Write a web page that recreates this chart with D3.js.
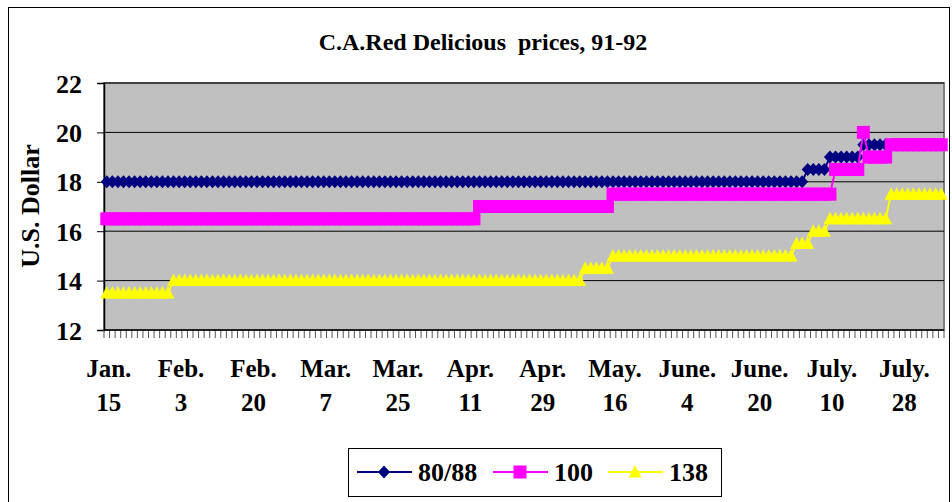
<!DOCTYPE html>
<html>
<head>
<meta charset="utf-8">
<script src="https://cdn.jsdelivr.net/npm/d3@7"></script>
<style>
  body { margin: 0; background: #fff; }
  text { font-family: "Liberation Serif", "Times New Roman", serif; font-weight: bold; fill: #000; }
</style>
</head>
<body>
<svg width="952" height="502"></svg>
<script>
// tick labels, every 13th trading day
const tickMonths = ["Jan.", "Feb.", "Feb.", "Mar.", "Mar.", "Apr.", "Apr.", "May.", "June.", "June.", "July.", "July."];
const tickDays   = ["15", "3", "20", "7", "25", "11", "29", "16", "4", "20", "10", "28"];
const tickStep = 13;

const seriesNames = ["80/88", "100", "138"];

// daily prices, 151 trading days
const s8088 = [
  18,18,18,18,18,18,18,18,18,18,18,18,18,18,18,18,18,18,18,18,
  18,18,18,18,18,18,18,18,18,18,18,18,18,18,18,18,18,18,18,18,
  18,18,18,18,18,18,18,18,18,18,18,18,18,18,18,18,18,18,18,18,
  18,18,18,18,18,18,18,18,18,18,18,18,18,18,18,18,18,18,18,18,
  18,18,18,18,18,18,18,18,18,18,18,18,18,18,18,18,18,18,18,18,
  18,18,18,18,18,18,18,18,18,18,18,18,18,18,18,18,18,18,18,18,
  18,18,18,18,18,18,
  18.5,18.5,18.5,18.5,
  19,19,19,19,19,19,
  19.5,19.5,19.5,19.5,19.5,19.5,19.5,19.5,19.5,19.5,19.5,19.5,19.5,19.5,19.5
];

const s100 = [
  16.5,16.5,16.5,16.5,16.5,16.5,16.5,16.5,16.5,16.5,16.5,16.5,16.5,16.5,16.5,16.5,16.5,16.5,16.5,16.5,
  16.5,16.5,16.5,16.5,16.5,16.5,16.5,16.5,16.5,16.5,16.5,16.5,16.5,16.5,16.5,16.5,16.5,16.5,16.5,16.5,
  16.5,16.5,16.5,16.5,16.5,16.5,16.5,16.5,16.5,16.5,16.5,16.5,16.5,16.5,16.5,16.5,16.5,16.5,16.5,16.5,
  16.5,16.5,16.5,16.5,16.5,16.5,16.5,
  17,17,17,17,17,17,17,17,17,17,17,17,17,17,17,17,17,17,17,17,
  17,17,17,17,
  17.5,17.5,17.5,17.5,17.5,17.5,17.5,17.5,17.5,17.5,17.5,17.5,17.5,17.5,17.5,17.5,17.5,17.5,17.5,17.5,
  17.5,17.5,17.5,17.5,17.5,17.5,17.5,17.5,17.5,17.5,17.5,17.5,17.5,17.5,17.5,17.5,17.5,17.5,17.5,17.5,
  18.5,18.5,18.5,18.5,18.5,
  20,
  19,19,19,19,
  19.5,19.5,19.5,19.5,19.5,19.5,19.5,19.5,19.5,19.5
];

const s138 = [
  13.5,13.5,13.5,13.5,13.5,13.5,13.5,13.5,13.5,13.5,13.5,13.5,
  14,14,14,14,14,14,14,14,14,14,14,14,14,14,14,14,14,14,14,14,
  14,14,14,14,14,14,14,14,14,14,14,14,14,14,14,14,14,14,14,14,
  14,14,14,14,14,14,14,14,14,14,14,14,14,14,14,14,14,14,14,14,
  14,14,14,14,14,14,14,14,14,14,14,14,14,14,
  14.5,14.5,14.5,14.5,14.5,
  15,15,15,15,15,15,15,15,15,15,15,15,15,15,15,15,15,15,15,15,
  15,15,15,15,15,15,15,15,15,15,15,15,15,
  15.5,15.5,15.5,
  16,16,16,
  16.5,16.5,16.5,16.5,16.5,16.5,16.5,16.5,16.5,16.5,16.5,
  17.5,17.5,17.5,17.5,17.5,17.5,17.5,17.5,17.5,17.5
];

const yTicks = [12, 14, 16, 18, 20, 22];

const svg = d3.select("svg");
const plotL = 104, plotR = 944, plotT = 83, plotB = 330;

// chart frame
svg.append("rect")
    .attr("x", 8.5).attr("y", 7.5).attr("width", 941).attr("height", 520)
    .attr("fill", "#fff").attr("stroke", "#000").attr("stroke-width", 1);

svg.append("text")
    .attr("x", 483).attr("y", 50)
    .attr("text-anchor", "middle")
    .style("font-size", "24px")
    .style("white-space", "pre")
    .text("C.A.Red Delicious  prices, 91-92");

const x = d3.scaleBand()
    .domain(d3.range(s8088.length))
    .range([plotL, plotR]);
const cx = i => x(i) + x.bandwidth() / 2;

const y = d3.scaleLinear().domain([12, 22]).range([plotB, plotT]);

// plot area
svg.append("rect")
    .attr("x", plotL).attr("y", plotT)
    .attr("width", plotR - plotL).attr("height", plotB - plotT)
    .attr("fill", "#c0c0c0").attr("stroke", "#808080").attr("stroke-width", 2);

svg.append("g").selectAll("line")
    .data(yTicks.slice(1))
    .join("line")
    .attr("x1", plotL).attr("x2", plotR)
    .attr("y1", d => y(d)).attr("y2", d => y(d))
    .attr("stroke", "#000").attr("stroke-width", 1);

// y axis
const yAxis = svg.append("g")
    .attr("transform", `translate(${plotL},0)`)
    .call(d3.axisLeft(y).tickValues(yTicks).tickSize(7).tickPadding(15));
yAxis.select(".domain").attr("stroke", "#000").attr("stroke-width", 1.5);
yAxis.selectAll(".tick line").attr("stroke", "#000");
yAxis.selectAll(".tick text")
    .attr("dy", "0.35em")
    .style("font-size", "26px")
    .style("font-family", "Liberation Serif")
    .style("font-weight", "bold");

svg.append("text")
    .attr("transform", "translate(39,206) rotate(-90)")
    .attr("text-anchor", "middle")
    .style("font-size", "26px")
    .text("U.S. Dollar");

// x axis: tick marks between categories
const bounds = d3.range(s8088.length + 1).map(i => plotL + i * x.bandwidth());
svg.append("g").selectAll("line")
    .data(bounds)
    .join("line")
    .attr("x1", d => d).attr("x2", d => d)
    .attr("y1", plotB).attr("y2", plotB + 8)
    .attr("stroke", "#555").attr("stroke-width", 1);
svg.append("line")
    .attr("x1", plotL).attr("x2", plotR)
    .attr("y1", plotB).attr("y2", plotB)
    .attr("stroke", "#000").attr("stroke-width", 1.5);

const xl = svg.append("g").selectAll("text")
    .data(tickMonths)
    .join("text")
    .attr("text-anchor", "middle")
    .style("font-size", "25px")
    .attr("transform", (d, i) => `translate(${cx(i * tickStep) + 2},0)`);
xl.append("tspan").attr("x", 0).attr("y", 377).text(d => d);
xl.append("tspan").attr("x", 0).attr("y", 411).text((d, i) => tickDays[i]);

// markers
const diamond = "M0,-6.5L6,0L0,6.5L-6,0Z";
const square = "M-6.5,-6.5H6.5V6.5H-6.5Z";
const triangle = "M0,-7L6.5,5.5L-6.5,5.5Z";

const series = [
  { name: seriesNames[0], values: s8088, color: "#000080", shape: diamond },
  { name: seriesNames[1], values: s100,  color: "#ff00ff", shape: square },
  { name: seriesNames[2], values: s138,  color: "#ffff00", shape: triangle }
];

const line = d3.line().x((d, i) => cx(i)).y(d => y(d));

series.forEach(s => {
  const g = svg.append("g");
  g.append("path")
      .datum(s.values)
      .attr("d", line)
      .attr("fill", "none")
      .attr("stroke", s.color)
      .attr("stroke-width", 2);
  g.selectAll("path.m")
      .data(s.values)
      .join("path")
      .attr("class", "m")
      .attr("d", s.shape)
      .attr("transform", (d, i) => `translate(${cx(i)},${y(d)})`)
      .attr("fill", s.color);
});

// legend
const lg = svg.append("g");
lg.append("rect")
    .attr("x", 348.5).attr("y", 448.5).attr("width", 373).attr("height", 48)
    .attr("fill", "#fff").attr("stroke", "#000").attr("stroke-width", 1);
const legX = [357, 493, 608];
series.forEach((s, i) => {
  const g = lg.append("g").attr("transform", `translate(${legX[i]},472)`);
  g.append("line").attr("x1", 0).attr("x2", 55)
      .attr("stroke", s.color).attr("stroke-width", 2);
  g.append("path").attr("d", s.shape)
      .attr("transform", "translate(27,0)")
      .attr("fill", s.color);
  g.append("text").attr("x", 61).attr("y", 9)
      .style("font-size", "26px")
      .text(s.name);
});
</script>
</body>
</html>
